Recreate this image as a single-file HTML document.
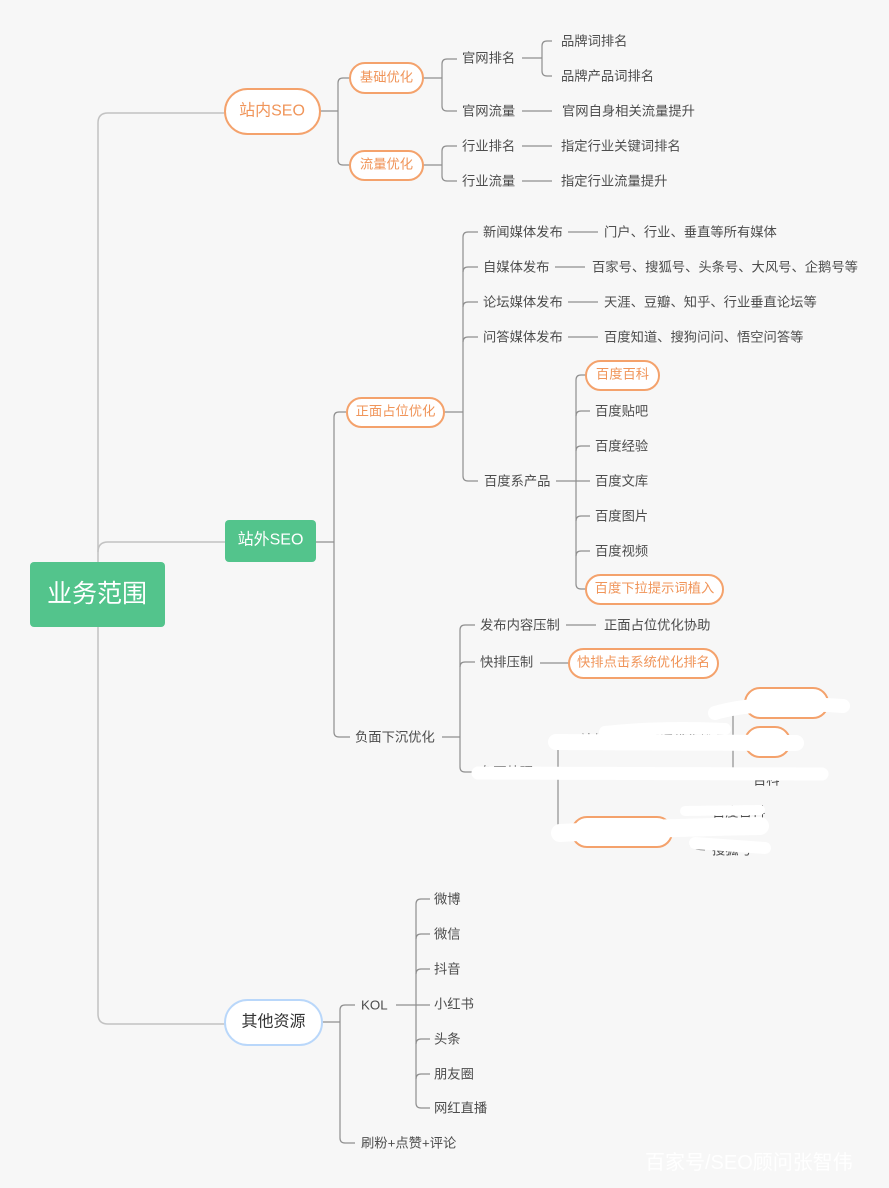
<!DOCTYPE html>
<html><head><meta charset="utf-8">
<style>
html,body{margin:0;padding:0;background:#f7f7f7;}
svg{display:block;}
text{font-family:"Liberation Sans","Noto Sans CJK SC",sans-serif;dominant-baseline:central;}
.t{font-size:13.3px;fill:#4d4d4d;}
.o{font-size:13.3px;fill:#f0955a;}
</style></head>
<body>
<svg width="889" height="1188" viewBox="0 0 889 1188" xmlns="http://www.w3.org/2000/svg">
<rect width="889" height="1188" fill="#f7f7f7"/>
<!-- trunk -->
<g fill="none" stroke="#c2c2c2" stroke-width="1.5">
<path d="M224,113 L108,113 Q98,113 98,123 L98,1014 Q98,1024 108,1024 L226,1024"/>
<path d="M98,552 Q98,542 108,542 L226,542"/>
</g>
<g fill="none" stroke="#8e8e8e" stroke-width="1.2">
<!-- 站内SEO -->
<path d="M320,111 L338,111"/>
<path d="M350,78 L343,78 Q338,78 338,83 L338,160 Q338,165 343,165 L350,165"/>
<path d="M423,78 L442,78"/>
<path d="M457,59 L447,59 Q442,59 442,64 L442,106 Q442,111 447,111 L457,111"/>
<path d="M522,58 L542,58"/>
<path d="M552,41 L547,41 Q542,41 542,46 L542,71 Q542,76 547,76 L552,76"/>
<path d="M522,111 L552,111"/>
<path d="M423,165 L442,165"/>
<path d="M457,146 L447,146 Q442,146 442,151 L442,176 Q442,181 447,181 L457,181"/>
<path d="M522,146 L552,146"/>
<path d="M522,181 L552,181"/>
<!-- 站外SEO -->
<path d="M316,542 L334,542"/>
<path d="M346,412 L339,412 Q334,412 334,417 L334,732 Q334,737 339,737 L350,737"/>
<path d="M444,412 L463,412"/>
<path d="M478,232 L468,232 Q463,232 463,237 L463,476 Q463,481 468,481 L478,481"/>
<path d="M463,272 Q463,267 468,267 L478,267 M463,307 Q463,302 468,302 L478,302 M463,342 Q463,337 468,337 L478,337"/>
<path d="M568,232 L598,232 M555,267 L585,267 M568,302 L598,302 M568,337 L598,337"/>
<path d="M556,481 L590,481"/>
<path d="M586,375 L581,375 Q576,375 576,380 L576,584 Q576,589 581,589 L586,589"/>
<path d="M576,416 Q576,411 581,411 L590,411 M576,451 Q576,446 581,446 L590,446 M576,521 Q576,516 581,516 L590,516 M576,556 Q576,551 581,551 L590,551"/>
<path d="M442,737 L460,737"/>
<path d="M475,625 L465,625 Q460,625 460,630 L460,767 Q460,772 465,772 L475,772"/>
<path d="M460,667 Q460,662 465,662 L475,662"/>
<path d="M566,625 L596,625"/>
<path d="M540,663 L569,663"/>
<path d="M558,742 L558,828"/>
<path d="M745,703 L738,703 Q733,703 733,708 L733,770"/>
<path d="M690,845 Q695,850 705,850"/>
<!-- 其他资源 -->
<path d="M322,1022 L340,1022"/>
<path d="M355,1005 L345,1005 Q340,1005 340,1010 L340,1138 Q340,1143 345,1143 L355,1143"/>
<path d="M396,1005 L430,1005"/>
<path d="M430,899 L421,899 Q416,899 416,904 L416,1103 Q416,1108 421,1108 L430,1108"/>
<path d="M416,939 Q416,934 421,934 L430,934 M416,974 Q416,969 421,969 L430,969 M416,1044 Q416,1039 421,1039 L430,1039 M416,1079 Q416,1074 421,1074 L430,1074"/>
</g>

<!-- root -->
<rect x="30" y="562" width="135" height="65" rx="4" fill="#53c48c"/>
<text x="97" y="594" font-size="25" fill="#fff" text-anchor="middle">业务范围</text>

<!-- 站内SEO -->
<rect x="225" y="89" width="95" height="45" rx="22.5" fill="#fff" stroke="#f4a26c" stroke-width="2"/>
<text x="272" y="111" font-size="16" fill="#f0955a" text-anchor="middle">站内SEO</text>
<rect x="350" y="63" width="73" height="30" rx="15" fill="#fff" stroke="#f4a26c" stroke-width="2"/>
<text x="386.5" y="77" class="o" text-anchor="middle">基础优化</text>
<rect x="350" y="151" width="73" height="29" rx="14.5" fill="#fff" stroke="#f4a26c" stroke-width="2"/>
<text x="386.5" y="164" class="o" text-anchor="middle">流量优化</text>
<text x="462" y="58" class="t">官网排名</text>
<text x="462" y="111" class="t">官网流量</text>
<text x="561" y="41" class="t">品牌词排名</text>
<text x="561" y="76" class="t">品牌产品词排名</text>
<text x="562" y="111" class="t">官网自身相关流量提升</text>
<text x="462" y="146" class="t">行业排名</text>
<text x="462" y="181" class="t">行业流量</text>
<text x="561" y="146" class="t">指定行业关键词排名</text>
<text x="561" y="181" class="t">指定行业流量提升</text>

<!-- 站外SEO -->
<rect x="225" y="520" width="91" height="42" rx="4" fill="#53c48c"/>
<text x="270.5" y="540" font-size="16" fill="#fff" text-anchor="middle">站外SEO</text>
<rect x="347" y="398" width="97" height="29" rx="14.5" fill="#fff" stroke="#f4a26c" stroke-width="2"/>
<text x="395.5" y="411" class="o" text-anchor="middle">正面占位优化</text>
<text x="483" y="232" class="t">新闻媒体发布</text>
<text x="483" y="267" class="t">自媒体发布</text>
<text x="483" y="302" class="t">论坛媒体发布</text>
<text x="483" y="337" class="t">问答媒体发布</text>
<text x="604" y="232" class="t">门户、行业、垂直等所有媒体</text>
<text x="592" y="267" class="t">百家号、搜狐号、头条号、大风号、企鹅号等</text>
<text x="604" y="302" class="t">天涯、豆瓣、知乎、行业垂直论坛等</text>
<text x="604" y="337" class="t">百度知道、搜狗问问、悟空问答等</text>
<text x="484" y="481" class="t">百度系产品</text>
<rect x="586" y="361" width="73" height="29" rx="14.5" fill="#fff" stroke="#f4a26c" stroke-width="2"/>
<text x="622.5" y="374" class="o" text-anchor="middle">百度百科</text>
<text x="595" y="411" class="t">百度贴吧</text>
<text x="595" y="446" class="t">百度经验</text>
<text x="595" y="481" class="t">百度文库</text>
<text x="595" y="516" class="t">百度图片</text>
<text x="595" y="551" class="t">百度视频</text>
<rect x="586" y="575" width="137" height="29" rx="14.5" fill="#fff" stroke="#f4a26c" stroke-width="2"/>
<text x="654.5" y="588" class="o" text-anchor="middle">百度下拉提示词植入</text>

<text x="355" y="737" class="t">负面下沉优化</text>
<text x="480" y="625" class="t">发布内容压制</text>
<text x="604" y="625" class="t">正面占位优化协助</text>
<text x="480" y="662" class="t">快排压制</text>
<rect x="569" y="649" width="149" height="29" rx="14.5" fill="#fff" stroke="#f4a26c" stroke-width="2"/>
<text x="643.5" y="662" class="o" text-anchor="middle">快排点击系统优化排名</text>

<!-- obscured area -->
<text x="480" y="772" class="t">负面处理</text>
<text x="580" y="740" class="t">站外推广关键词优化排名</text>
<rect x="745" y="688" width="83" height="30" rx="15" fill="#fff" stroke="#f4a26c" stroke-width="2"/>
<rect x="745" y="727" width="45" height="30" rx="15" fill="#fff" stroke="#f4a26c" stroke-width="2"/>
<text x="767" y="742" class="o" text-anchor="middle">贴吧</text>
<text x="753" y="780" class="t">百科</text>
<rect x="572" y="817" width="100" height="30" rx="15" fill="#fff" stroke="#f4a26c" stroke-width="2"/>
<text x="712" y="812" class="t">百度百科</text>
<text x="712" y="850" class="t">搜狐号</text>
<g fill="none" stroke="#ffffff" stroke-linecap="round">
<path d="M715,713 Q760,700 843,706" stroke-width="14"/>
<path d="M556,742 L796,743" stroke-width="16"/>
<path d="M605,732 Q660,726 725,729" stroke-width="12"/>
<path d="M478,773 L822,774" stroke-width="13"/>
<path d="M685,811 L760,810" stroke-width="10"/>
<path d="M560,833 Q650,828 760,826" stroke-width="18"/>
<path d="M695,843 L765,848" stroke-width="12"/>
<path d="M750,747 L760,752" stroke-width="8"/>
</g>

<!-- 其他资源 -->
<rect x="225" y="1000" width="97" height="45" rx="22.5" fill="#fff" stroke="#b9d7fa" stroke-width="2"/>
<text x="273.5" y="1022" font-size="16" fill="#333" text-anchor="middle">其他资源</text>
<text x="361" y="1005" class="t">KOL</text>
<text x="361" y="1143" class="t">刷粉+点赞+评论</text>
<text x="434" y="899" class="t">微博</text>
<text x="434" y="934" class="t">微信</text>
<text x="434" y="969" class="t">抖音</text>
<text x="434" y="1004" class="t">小红书</text>
<text x="434" y="1039" class="t">头条</text>
<text x="434" y="1074" class="t">朋友圈</text>
<text x="434" y="1108" class="t">网红直播</text>

<!-- watermark -->
<text x="645" y="1163" font-size="20" fill="#ffffff">百家号/SEO顾问张智伟</text>
</svg>
</body></html>
